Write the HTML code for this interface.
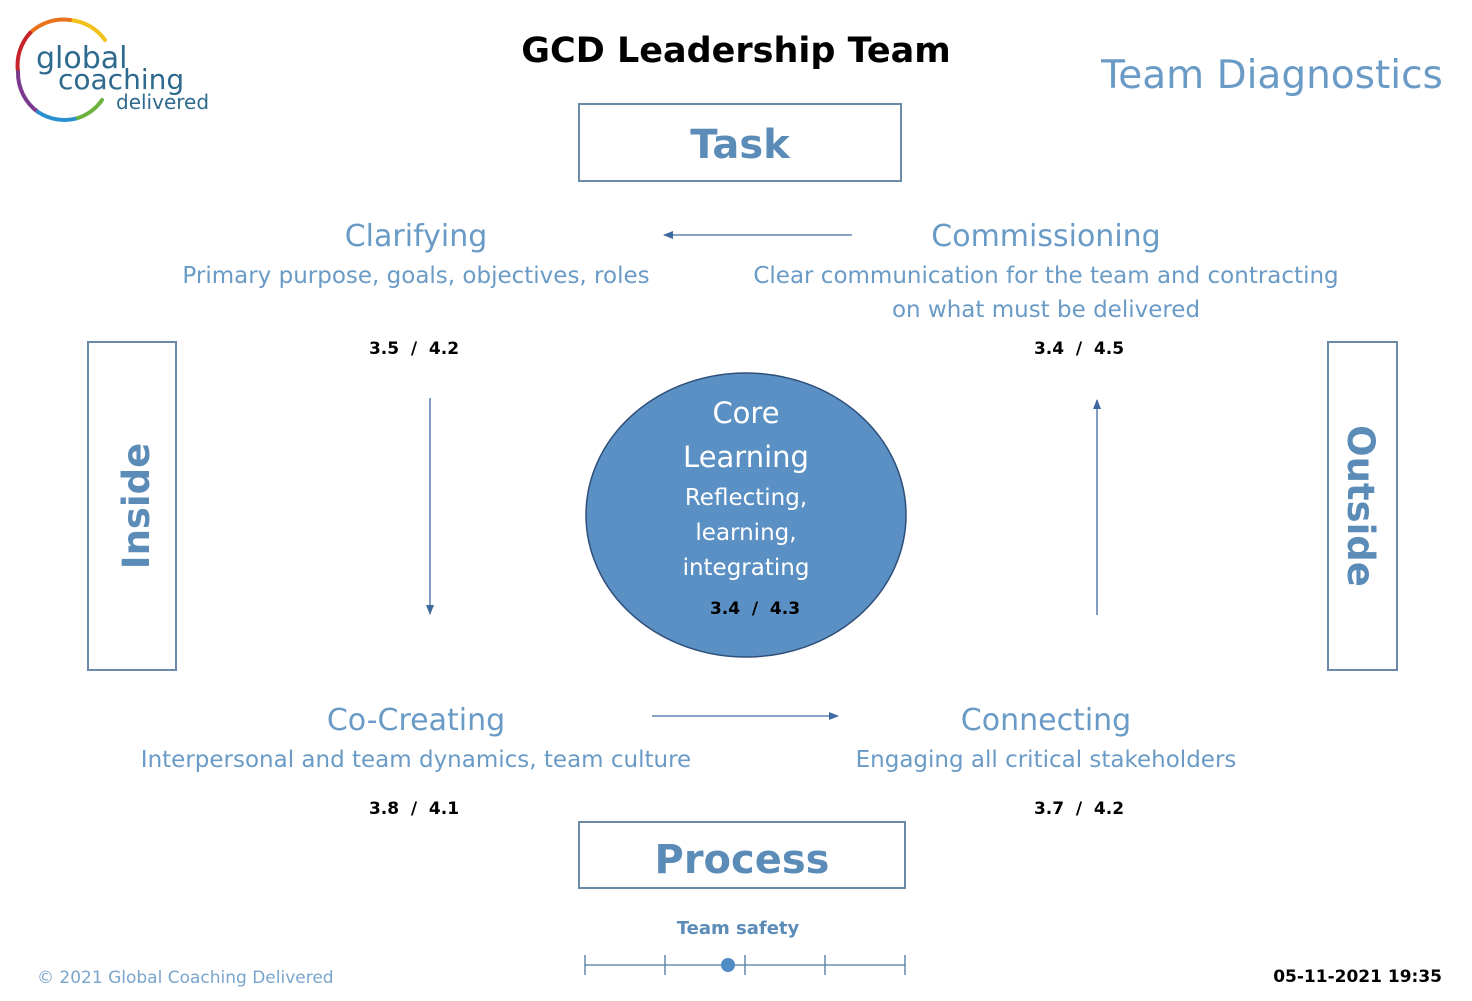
<!DOCTYPE html>
<html><head><meta charset="utf-8"><style>
html,body{margin:0;padding:0;background:#fff;}
svg{display:block;}
text{font-family:"DejaVu Sans","Liberation Sans",sans-serif;white-space:pre;}
</style></head><body>
<svg width="1472" height="1001" viewBox="0 0 1472 1001" xmlns="http://www.w3.org/2000/svg">
<defs>
<marker id="ah" markerWidth="10" markerHeight="8" refX="9" refY="4" orient="auto" markerUnits="userSpaceOnUse">
<path d="M0,0 L10,4 L0,8 z" fill="#3f6aa0"/></marker>
</defs>
<g fill="none" stroke-width="4" stroke-linecap="round">
<path d="M105,40 A48,48 0 0 0 70,20" stroke="#f2c21b"/>
<path d="M70,20 A48,48 0 0 0 30,33" stroke="#e8731e"/>
<path d="M30,33 A48,48 0 0 0 18,72" stroke="#c8242c"/>
<path d="M18,72 A48,48 0 0 0 38,112" stroke="#7b3a8e"/>
<path d="M38,112 A48,48 0 0 0 78,118" stroke="#2a8fcf"/>
<path d="M78,118 A48,48 0 0 0 102,100" stroke="#6cb33e"/>
</g>
<text x="36" y="68" font-size="30" fill="#2e6a8e">global</text>
<text x="58" y="89" font-size="28" fill="#2e6a8e">coaching</text>
<text x="116" y="109" font-size="20" fill="#2e6a8e">delivered</text>

<text x="736" y="62" font-size="35" font-weight="bold" text-anchor="middle" fill="#000">GCD Leadership Team</text>
<text x="1272" y="88" font-size="39" text-anchor="middle" fill="#6a9bc6">Team Diagnostics</text>

<rect x="579" y="104" width="322" height="77" fill="#fff" stroke="#6a8aa8" stroke-width="2"/>
<text x="740" y="158" font-size="40" font-weight="bold" text-anchor="middle" fill="#5b8cb8">Task</text>
<rect x="579" y="822" width="326" height="66" fill="#fff" stroke="#6a8aa8" stroke-width="2"/>
<text x="742" y="873" font-size="40" font-weight="bold" text-anchor="middle" fill="#5b8cb8">Process</text>
<rect x="88" y="342" width="88" height="328" fill="#fff" stroke="#6a8aa8" stroke-width="2"/>
<text transform="translate(149,506) rotate(-90)" font-size="37" font-weight="bold" text-anchor="middle" fill="#5b8cb8">Inside</text>
<rect x="1328" y="342" width="69" height="328" fill="#fff" stroke="#6a8aa8" stroke-width="2"/>
<text transform="translate(1348,506) rotate(90)" font-size="37" font-weight="bold" text-anchor="middle" fill="#5b8cb8">Outside</text>

<g fill="#6a9bc6" text-anchor="middle">
<text x="416" y="246" font-size="30">Clarifying</text>
<text x="416" y="283" font-size="23">Primary purpose, goals, objectives, roles</text>
<text x="1046" y="246" font-size="30">Commissioning</text>
<text x="1046" y="283" font-size="23">Clear communication for the team and contracting</text>
<text x="1046" y="317" font-size="23">on what must be delivered</text>
<text x="416" y="730" font-size="30">Co-Creating</text>
<text x="416" y="767" font-size="23">Interpersonal and team dynamics, team culture</text>
<text x="1046" y="730" font-size="30">Connecting</text>
<text x="1046" y="767" font-size="23">Engaging all critical stakeholders</text>
</g>
<g font-size="17" font-weight="bold" fill="#000" text-anchor="middle">
<text x="414" y="354">3.5  /  4.2</text>
<text x="1079" y="354">3.4  /  4.5</text>
<text x="414" y="814">3.8  /  4.1</text>
<text x="1079" y="814">3.7  /  4.2</text>
</g>

<g stroke="#3f6aa0" stroke-width="1.3" fill="none">
<line x1="852" y1="235" x2="664" y2="235" marker-end="url(#ah)"/>
<line x1="430" y1="398" x2="430" y2="614" marker-end="url(#ah)"/>
<line x1="652" y1="716" x2="838" y2="716" marker-end="url(#ah)"/>
<line x1="1097" y1="615" x2="1097" y2="400" marker-end="url(#ah)"/>
</g>

<ellipse cx="746" cy="515" rx="160" ry="142" fill="#5a90c3" stroke="#2f4f7a" stroke-width="1.5"/>
<g fill="#fff" text-anchor="middle">
<text x="746" y="423" font-size="29">Core</text>
<text x="746" y="467" font-size="29">Learning</text>
<text x="746" y="505" font-size="23">Reflecting,</text>
<text x="746" y="540" font-size="23">learning,</text>
<text x="746" y="575" font-size="23">integrating</text>
</g>
<text x="755" y="614" font-size="17" font-weight="bold" text-anchor="middle" fill="#000">3.4  /  4.3</text>

<text x="738" y="934" font-size="18" font-weight="bold" text-anchor="middle" fill="#5b8cb8">Team safety</text>
<g stroke="#4a7aa0" stroke-width="1.3">
<line x1="585" y1="965" x2="905" y2="965"/>
<line x1="585" y1="955" x2="585" y2="975"/>
<line x1="665" y1="955" x2="665" y2="975"/>
<line x1="745" y1="955" x2="745" y2="975"/>
<line x1="825" y1="955" x2="825" y2="975"/>
<line x1="905" y1="955" x2="905" y2="975"/>
</g>
<circle cx="728" cy="965" r="7" fill="#4f8cc4"/>

<text x="37" y="983" font-size="17" fill="#7aa5cc">© 2021 Global Coaching Delivered</text>
<text x="1442" y="982" font-size="17" font-weight="bold" text-anchor="end" fill="#000">05-11-2021 19:35</text>
</svg>
</body></html>
